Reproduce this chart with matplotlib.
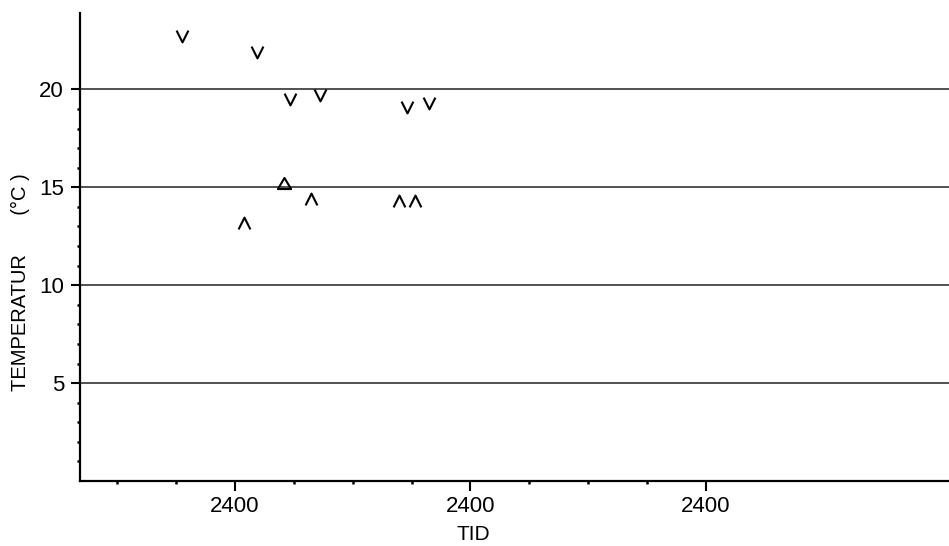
import matplotlib
matplotlib.use("Agg")
import matplotlib.pyplot as plt
from matplotlib.path import Path

plt.rcParams["font.family"] = ["Liberation Sans", "DejaVu Sans"]

# daily max (v), daily min (^) and one mean reading, time in hours
max_hours = [18.6, 26.2, 29.6, 32.7, 41.5, 43.8]
max_temps = [22.7, 21.9, 19.5, 19.7, 19.1, 19.3]
min_hours = [24.9, 31.8, 40.7, 42.4]
min_temps = [13.2, 14.4, 14.3, 14.3]
mid_hours = [29.0]
mid_temps = [15.2]

day_ticks = [24, 48, 72]
day_labels = ["2400", "2400", "2400"]
hour_ticks = [12, 18, 30, 36, 42, 54, 60, 66]
temp_ticks = [5, 10, 15, 20]
temp_minor = [t for t in range(1, 20) if t % 5]

# open plotter style symbols
v_mark = Path([(-0.5, 0.5), (0, -0.5), (0.5, 0.5)],
              [Path.MOVETO, Path.LINETO, Path.LINETO])
a_mark = Path([(-0.5, -0.5), (0, 0.5), (0.5, -0.5)],
              [Path.MOVETO, Path.LINETO, Path.LINETO])
tri_mark = Path([(-0.5, -0.42), (0, 0.42), (0.5, -0.42), (-0.5, -0.42)],
                [Path.MOVETO, Path.LINETO, Path.LINETO, Path.CLOSEPOLY])

fig = plt.figure(figsize=(9.49, 5.46), dpi=100)
ax = fig.add_axes([80 / 949, 65 / 546, 1 - 80 / 949, 468 / 546])

ax.set_xlim(8.2, 96.8)
ax.set_ylim(0, 23.9)

for t in temp_ticks:
    ax.axhline(t, color="#222222", lw=1.1, zorder=1)

kw = dict(ls="none", color="black", mfc="none", mew=1.5, zorder=3)
ax.plot(max_hours, max_temps, marker=v_mark, ms=8.5, **kw)
ax.plot(min_hours, min_temps, marker=a_mark, ms=8.5, **kw)
ax.plot(mid_hours, mid_temps, marker=tri_mark, ms=9.5, **kw)

ax.spines["top"].set_visible(False)
ax.spines["right"].set_visible(False)
ax.spines["left"].set_linewidth(1.6)
ax.spines["bottom"].set_linewidth(1.6)

ax.set_xticks(day_ticks)
ax.set_xticklabels(day_labels)
ax.set_xticks(hour_ticks, minor=True)
ax.set_yticks(temp_ticks)
ax.set_yticklabels([str(t) for t in temp_ticks])
ax.set_yticks(temp_minor, minor=True)

ax.tick_params(axis="x", which="major", length=7, width=1.5, pad=3.5,
               labelsize=16)
ax.tick_params(axis="y", which="major", length=6.5, width=1.5, pad=5,
               labelsize=16)
ax.tick_params(which="minor", length=2.5, width=1.8)

fig.text(20.5 / 949, 1 - 282 / 546, "TEMPERATUR       (°C )", rotation=90,
         ha="center", va="center", fontsize=14.5)
fig.text(473 / 949, 1 - 535 / 546, "TID", ha="center", va="center",
         fontsize=15)

fig.savefig("out.png", dpi=100)
